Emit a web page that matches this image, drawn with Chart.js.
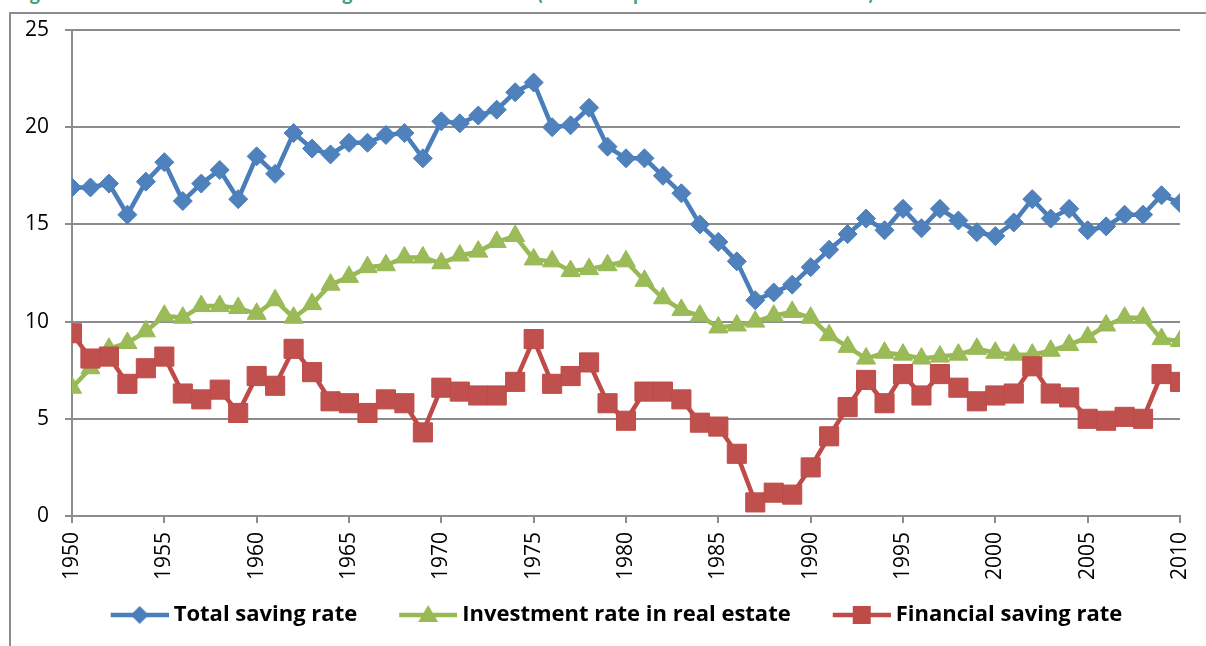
<!DOCTYPE html>
<html>
<head>
<meta charset="utf-8">
<script src="https://cdn.jsdelivr.net/npm/chart.js@4.4.0/dist/chart.umd.min.js"></script>
<style>
	html, body { margin: 0; padding: 0; background: #fff; overflow: hidden; }
	#wrap { position: relative; width: 1206px; height: 646px; overflow: hidden; }
	#frame {
		position: absolute; left: 9px; top: 12px; width: 1300px; height: 700px;
		border-left: 2px solid #8c8c8c; border-top: 2px solid #8c8c8c;
	}
	#title {
		position: absolute; left: 13px; top: -18px; white-space: nowrap;
		font: bold 20px/20px Lato, sans-serif; color: #3f9f7f;
	}
	canvas { position: absolute; left: 0; top: 0; }
</style>
</head>
<body>
<div id="wrap">
	<div id="frame"></div>
	<div id="title">Figure 1: The French household saving rates in 1950–2010 (in % of disposable household income)</div>
	<canvas id="savingChart" width="1206" height="646"></canvas>
</div>
<script>
/* -------------------------------------------------------------
 * DATA
 * ------------------------------------------------------------- */
const years = [
	1950, 1951, 1952, 1953, 1954, 1955, 1956, 1957, 1958, 1959,
	1960, 1961, 1962, 1963, 1964, 1965, 1966, 1967, 1968, 1969,
	1970, 1971, 1972, 1973, 1974, 1975, 1976, 1977, 1978, 1979,
	1980, 1981, 1982, 1983, 1984, 1985, 1986, 1987, 1988, 1989,
	1990, 1991, 1992, 1993, 1994, 1995, 1996, 1997, 1998, 1999,
	2000, 2001, 2002, 2003, 2004, 2005, 2006, 2007, 2008, 2009,
	2010
];

const totalSaving = [
	16.9, 16.9, 17.1, 15.5, 17.2, 18.2, 16.2, 17.1, 17.8, 16.3,
	18.5, 17.6, 19.7, 18.9, 18.6, 19.2, 19.2, 19.6, 19.7, 18.4,
	20.3, 20.2, 20.6, 20.9, 21.8, 22.3, 20.0, 20.1, 21.0, 19.0,
	18.4, 18.4, 17.5, 16.6, 15.0, 14.1, 13.1, 11.1, 11.5, 11.9,
	12.8, 13.7, 14.5, 15.3, 14.7, 15.8, 14.8, 15.8, 15.2, 14.6,
	14.4, 15.1, 16.3, 15.3, 15.8, 14.7, 14.9, 15.5, 15.5, 16.5,
	16.1
];

const realEstate = [
	6.6, 7.6, 8.6, 8.9, 9.5, 10.3, 10.2, 10.8, 10.8, 10.7,
	10.4, 11.1, 10.2, 10.9, 11.9, 12.3, 12.8, 12.9, 13.3, 13.3,
	13.0, 13.4, 13.6, 14.1, 14.4, 13.2, 13.1, 12.6, 12.7, 12.9,
	13.1, 12.1, 11.2, 10.6, 10.3, 9.7, 9.8, 10.0, 10.3, 10.5,
	10.2, 9.3, 8.7, 8.1, 8.4, 8.3, 8.1, 8.2, 8.3, 8.6,
	8.4, 8.3, 8.3, 8.5, 8.8, 9.2, 9.8, 10.2, 10.2, 9.1,
	9.0
];

const financialSaving = [
	9.4, 8.1, 8.2, 6.8, 7.6, 8.2, 6.3, 6.0, 6.5, 5.3,
	7.2, 6.7, 8.6, 7.4, 5.9, 5.8, 5.3, 6.0, 5.8, 4.3,
	6.6, 6.4, 6.2, 6.2, 6.9, 9.1, 6.8, 7.2, 7.9, 5.8,
	4.9, 6.4, 6.4, 6.0, 4.8, 4.6, 3.2, 0.7, 1.2, 1.1,
	2.5, 4.1, 5.6, 7.0, 5.8, 7.3, 6.2, 7.3, 6.6, 5.9,
	6.2, 6.3, 7.7, 6.3, 6.1, 5.0, 4.9, 5.1, 5.0, 7.3,
	6.9
];

const seriesLabels = [
	'Total saving rate',
	'Investment rate in real estate',
	'Financial saving rate'
];

/* -------------------------------------------------------------
 * STYLE
 * ------------------------------------------------------------- */
const FONT = '"Open Sans", Lato, sans-serif';
const GRID = '#8c8c8c';
const BLUE = '#4a7ebb';
const GREEN = '#98b954';
const RED = '#be4b48';

const toPoints = ( values ) => values.map( ( v, i ) => ( { x: years[ i ], y: v } ) );

// Legend icon: a short line with the marker in the middle, like Excel draws it.
function legendIcon( color, style ) {
	const gap = 36;
	const c = document.createElement( 'canvas' );
	c.width = gap + 58;
	c.height = 24;
	const ctx = c.getContext( '2d' );
	ctx.strokeStyle = color;
	ctx.fillStyle = color;
	ctx.lineWidth = 4.5;
	ctx.beginPath();
	ctx.moveTo( gap, 12 );
	ctx.lineTo( gap + 58, 12 );
	ctx.stroke();
	const cx = gap + 29;
	ctx.beginPath();
	if ( style === 'diamond' ) {
		ctx.moveTo( cx - 9, 12 );
		ctx.lineTo( cx, 3 );
		ctx.lineTo( cx + 9, 12 );
		ctx.lineTo( cx, 21 );
	} else if ( style === 'triangle' ) {
		ctx.moveTo( cx, 2 );
		ctx.lineTo( cx + 10, 19 );
		ctx.lineTo( cx - 10, 19 );
	} else {
		ctx.rect( cx - 9, 3, 18, 18 );
	}
	ctx.closePath();
	ctx.fill();
	return c;
}

const icons = [
	legendIcon( BLUE, 'diamond' ),
	legendIcon( GREEN, 'triangle' ),
	legendIcon( RED, 'square' )
];

/* -------------------------------------------------------------
 * CHART
 * ------------------------------------------------------------- */
new Chart( document.getElementById( 'savingChart' ), {
	type: 'line',
	data: {
		datasets: [
			{
				label: seriesLabels[ 0 ],
				data: toPoints( totalSaving ),
				borderColor: BLUE,
				backgroundColor: '#4f81bd',
				pointStyle: 'rectRot',
				pointRadius: 9.5,
				borderWidth: 4.5,
				pointBorderWidth: 1,
				order: 2
			},
			{
				label: seriesLabels[ 1 ],
				data: toPoints( realEstate ),
				borderColor: GREEN,
				backgroundColor: '#9bbb59',
				pointStyle: 'triangle',
				pointRadius: 11,
				borderWidth: 4.5,
				pointBorderWidth: 1,
				order: 1
			},
			{
				label: seriesLabels[ 2 ],
				data: toPoints( financialSaving ),
				borderColor: RED,
				backgroundColor: '#c0504d',
				pointStyle: 'rect',
				pointRadius: 13.5,
				borderWidth: 4.5,
				pointBorderWidth: 1,
				order: 0
			}
		]
	},
	options: {
		responsive: false,
		animation: false,
		layout: { padding: { left: 0, right: 3, top: 30, bottom: 10 } },
		elements: { line: { tension: 0 } },
		plugins: {
			tooltip: { enabled: false },
			legend: {
				position: 'bottom',
				labels: {
					usePointStyle: true,
					pointStyleWidth: 82,
					padding: 12,
					color: '#000',
					font: { family: FONT, size: 22, weight: 'bold' },
					generateLabels: ( chart ) =>
						chart.data.datasets.map( ( ds, i ) => ( {
							text: ds.label,
							pointStyle: icons[ i ],
							fillStyle: 'transparent',
							strokeStyle: 'transparent',
							lineWidth: 0,
							fontColor: '#000',
							hidden: false,
							datasetIndex: i
						} ) )
				}
			}
		},
		scales: {
			x: {
				type: 'linear',
				min: 1950,
				max: 2010,
				afterFit: ( s ) => { s.height = 76; },
				ticks: {
					stepSize: 5,
					minRotation: 90,
					maxRotation: 90,
					padding: 9,
					color: '#000',
					font: { family: FONT, size: 21, lineHeight: 0.8 },
					callback: ( v ) => String( v )
				},
				grid: { drawOnChartArea: false, tickLength: 7, color: GRID, lineWidth: 2 },
				border: { color: GRID, width: 2 }
			},
			y: {
				min: 0,
				max: 25,
				afterFit: ( s ) => { s.width = 72; },
				ticks: {
					stepSize: 5,
					padding: 16,
					color: '#000',
					font: { family: FONT, size: 21 }
				},
				grid: { tickLength: 7, color: GRID, lineWidth: 2 },
				border: { color: GRID, width: 2 }
			},
			// empty right margin so the plot ends where Excel ends it
			yPad: {
				position: 'right',
				afterFit: ( s ) => { s.width = 23; },
				ticks: { display: false },
				grid: { display: false, drawTicks: false },
				border: { display: false }
			}
		}
	}
} );
</script>
</body>
</html>
